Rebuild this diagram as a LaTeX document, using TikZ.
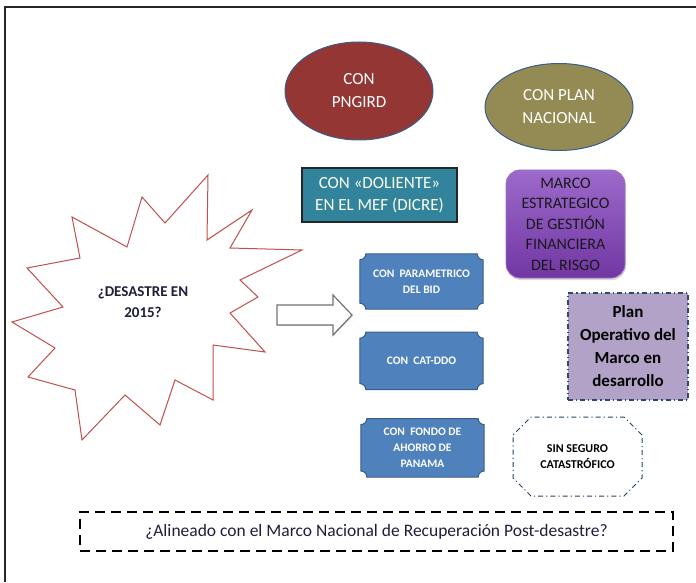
\documentclass[tikz,border=0pt]{standalone}
\usepackage{fontspec}
\setmainfont{Carlito}
\usepackage{tikz}
\usetikzlibrary{positioning, shapes.geometric, shapes.misc, backgrounds, shadows}

\definecolor{pngird}{HTML}{943634}
\definecolor{plannac}{HTML}{948A54}
\definecolor{officeline}{HTML}{385D8A}
\definecolor{dolientefill}{HTML}{31849B}
\definecolor{marcotop}{HTML}{9C6ACB}
\definecolor{marcobot}{HTML}{7236A3}
\definecolor{planopfill}{HTML}{B3A2C7}
\definecolor{plaquefill}{HTML}{4F81BD}
\definecolor{burstred}{HTML}{C0504D}
\definecolor{textnavy}{HTML}{1F1F3A}

% contorno de placa (esquinas cóncavas) alrededor de un nodo
\newcommand{\plaqueshape}[2][6pt]{%
  \draw[plaque line] ([yshift=-#1]#2.north west) arc[start angle=270, end angle=360, radius=#1]
    -- ([xshift=-#1]#2.north east) arc[start angle=180, end angle=270, radius=#1]
    -- ([yshift=#1]#2.south east) arc[start angle=90, end angle=180, radius=#1]
    -- ([xshift=#1]#2.south west) arc[start angle=0, end angle=90, radius=#1]
    -- cycle;}

\begin{document}
\begin{tikzpicture}[
      x=1pt, y=1pt,
      oval/.style={
          ellipse,
          draw=officeline,
          line width=1pt,
          align=center,
          text=white,
          font=\fontsize{17}{23}\selectfont,
          inner sep=0pt
      },
      plaque/.style={
          minimum width=123pt,
          minimum height=56pt,
          align=center,
          text=white,
          inner sep=0pt,
          font=\fontsize{11.5}{16}\selectfont\bfseries
      },
      plaque line/.style={fill=plaquefill, draw=officeline, line width=1pt},
      dashdot/.style={dash pattern=on 5pt off 3pt on 1.2pt off 3pt},
      burst/.style={fill=white, draw=burstred, line width=1pt},
      arrow/.style={fill=white, draw=black!55, line width=1.2pt,
                    drop shadow={opacity=0.25, shadow xshift=1pt, shadow yshift=-1pt}}
  ]

  \useasboundingbox (0,0) rectangle (696,582);

  % ══════════════════════════════
  % MARCO exterior
  % ══════════════════════════════
  \draw[black!85, line width=1.5pt] (5,0) -- (5,575) -- (696,575);

  % ══════════════════════════════
  % ELIPSES (arriba)
  % ══════════════════════════════
  \node[oval, fill=pngird, minimum width=148pt, minimum height=98pt]
      (pngird) at (359,491) {CON\\PNGIRD};

  \node[oval, fill=plannac, minimum width=148pt, minimum height=87pt]
      (plannac) at (559,475) {CON PLAN\\NACIONAL};

  % ══════════════════════════════
  % DOLIENTE y MARCO ESTRATÉGICO
  % ══════════════════════════════
  \node[draw=black!85, line width=1.2pt, fill=dolientefill, text=white!95!yellow,
        minimum width=155pt, minimum height=54pt, align=center, inner sep=0pt,
        font=\fontsize{17}{22}\selectfont]
      (doliente) at (379.5,387) {CON «DOLIENTE»\\EN EL MEF (DICRE)};

  \node[rounded corners=14pt, draw=marcobot!70, line width=0.8pt,
        top color=marcotop, bottom color=marcobot,
        drop shadow={opacity=0.3, shadow xshift=1pt, shadow yshift=-2pt},
        minimum width=119pt, minimum height=108pt, align=center, inner sep=0pt,
        text=black!90, font=\fontsize{16}{20.5}\selectfont]
      (marco) at (565.5,358)
      {MARCO\\ESTRATEGICO\\DE GESTIÓN\\FINANCIERA\\DEL RISGO};

  % ══════════════════════════════
  % ¿DESASTRE? (estallido)
  % ══════════════════════════════
  \draw[burst] (208,407) -- (165,359) -- (142,385) -- (127,335) -- (72,365)
      -- (80,324) -- (27,314) -- (63,275) -- (12,260) -- (55,234) -- (28,205)
      -- (75,192) -- (82,142) -- (125,187) -- (160,157) -- (175,202)
      -- (213,182) -- (213,237) -- (265,230) -- (230,269) -- (258,285)
      -- (240,302) -- (302,332) -- (230,334) -- (252,372) -- (207,342) -- cycle;

  \node[align=center, text=textnavy, font=\fontsize{15}{21}\selectfont\bfseries]
      (desastre) at (143,280) {¿DESASTRE EN\\2015?};

  % ══════════════════════════════
  % FLECHA de bloque
  % ══════════════════════════════
  \draw[arrow] (277,277) -- (333,277) -- (333,287) -- (352,267)
      -- (333,247) -- (333,257) -- (277,257) -- cycle;

  % ══════════════════════════════
  % PLACAS azules
  % ══════════════════════════════
  \node[plaque, minimum height=55pt] (parametrico) at (421.5,300.5)
      {CON\ \ PARAMETRICO\\DEL BID};

  \node[plaque, minimum height=57pt, below=23pt of parametrico] (catddo)
      {CON\ \ CAT-DDO};

  \node[plaque, minimum height=58pt, below=29pt of catddo, xshift=1pt] (fondo)
      {CON\ \ FONDO DE\\AHORRO DE\\PANAMA};

  \begin{scope}[on background layer]
    \plaqueshape{parametrico}
    \plaqueshape{catddo}
    \plaqueshape{fondo}
  \end{scope}

  % ══════════════════════════════
  % PLAN OPERATIVO y SIN SEGURO
  % ══════════════════════════════
  \node[draw=officeline!80!black, dashdot, line width=1.2pt, fill=planopfill,
        minimum width=120pt, minimum height=107pt, align=center, inner sep=0pt,
        font=\fontsize{17}{23}\selectfont\bfseries]
      (planop) at (628,235.5) {Plan\\Operativo del\\Marco en\\desarrollo};

  \node[chamfered rectangle, chamfered rectangle xsep=9pt,
        chamfered rectangle ysep=9pt, draw=officeline!70!black, dashdot,
        line width=1pt, minimum width=129pt, minimum height=79pt,
        align=center, inner sep=0pt, text=black,
        font=\fontsize{12}{16}\selectfont\bfseries]
      (seguro) at (577.5,125.5) {SIN SEGURO\\CATASTRÓFICO};

  % ══════════════════════════════
  % PREGUNTA final (abajo)
  % ══════════════════════════════
  \node[draw=black, dash pattern=on 10pt off 6pt, line width=2.5pt,
        minimum width=593pt, minimum height=39pt, inner sep=0pt,
        text=textnavy, font=\fontsize{17.5}{20}\selectfont]
      (alineado) at (376.5,50.5)
      {¿Alineado con el Marco Nacional de Recuperación Post-desastre?};

\end{tikzpicture}
\end{document}
